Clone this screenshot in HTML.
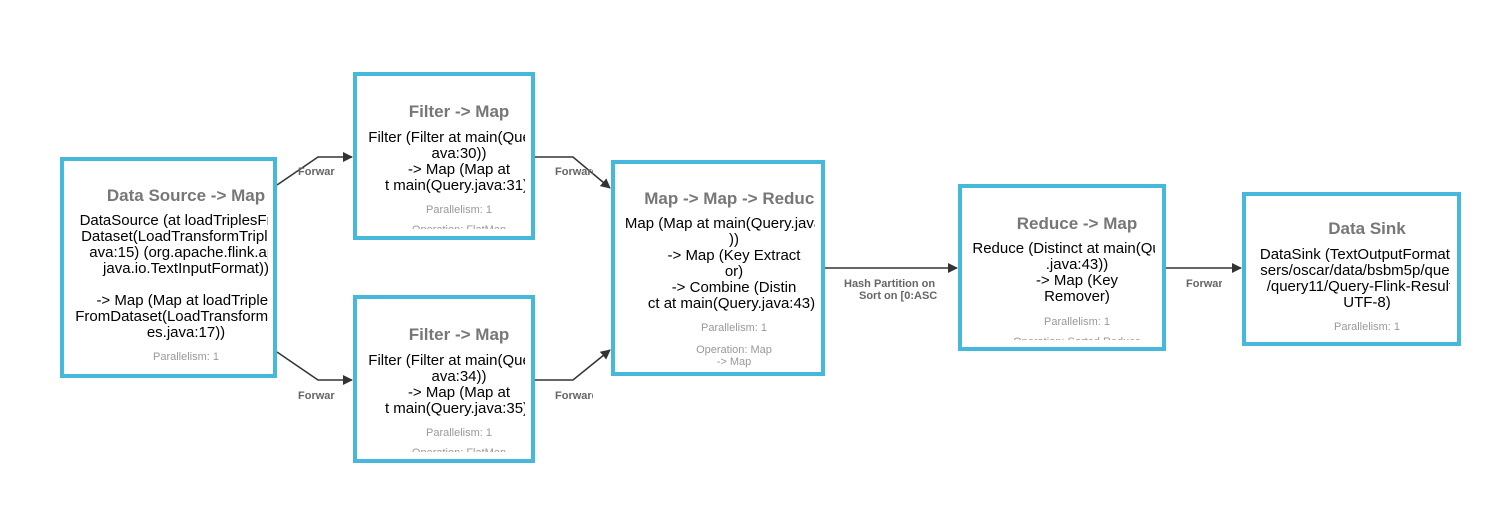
<!DOCTYPE html>
<html><head><meta charset="utf-8"><style>
html,body{margin:0;padding:0;background:#fff;}
svg{display:block;font-family:"Liberation Sans",Arial,sans-serif;}
.t{font-size:17px;fill:#777;text-anchor:middle;font-weight:bold;}
.b{font-size:15px;fill:#000;text-anchor:middle;}
.p{font-size:11px;fill:#999;text-anchor:middle;}
.l{font-size:11px;fill:#666;font-weight:bold;}
.box{fill:#fff;stroke:#45b8dc;stroke-width:4;}
.e{fill:none;stroke:#333;stroke-width:1.5;}
</style></head><body>
<svg width="1506" height="520" viewBox="0 0 1506 520">
<defs>
<marker id="ar" markerWidth="10" markerHeight="10" refX="9" refY="5" orient="auto" markerUnits="userSpaceOnUse"><path d="M0,0 L10,5 L0,10 z" fill="#333"/></marker>
<clipPath id="cA"><rect x="62" y="159" width="206" height="217"/></clipPath>
<clipPath id="cB1"><rect x="355" y="74" width="170" height="155"/></clipPath>
<clipPath id="cB2"><rect x="355" y="297" width="170" height="155"/></clipPath>
<clipPath id="cC"><rect x="613" y="162" width="202" height="212"/></clipPath>
<clipPath id="cD"><rect x="960" y="186" width="195" height="154"/></clipPath>
<clipPath id="cE"><rect x="1244" y="194" width="206" height="150"/></clipPath>
<clipPath id="l1"><rect x="290" y="160" width="45" height="250"/></clipPath>
<clipPath id="l2"><rect x="550" y="160" width="43" height="250"/></clipPath>
<clipPath id="l3"><rect x="835" y="270" width="102" height="40"/></clipPath>
<clipPath id="l4"><rect x="1180" y="270" width="42" height="30"/></clipPath>
</defs>

<polyline class="e" points="277,185 318,157 352,157" marker-end="url(#ar)"/>
<polyline class="e" points="277,352 318,380 352,380" marker-end="url(#ar)"/>
<polyline class="e" points="535,157 573,157 610,188" marker-end="url(#ar)"/>
<polyline class="e" points="535,380 573,380 610,350" marker-end="url(#ar)"/>
<polyline class="e" points="825,268 957,268" marker-end="url(#ar)"/>
<polyline class="e" points="1166,268 1241,268" marker-end="url(#ar)"/>

<g clip-path="url(#l1)"><text class="l" x="298" y="175">Forward</text><text class="l" x="298" y="399">Forward</text></g>
<g clip-path="url(#l2)"><text class="l" x="555" y="175">Forward</text><text class="l" x="555" y="399">Forward</text></g>
<g clip-path="url(#l3)"><text class="l" x="844" y="287">Hash Partition on [0]</text><text class="l" x="859" y="299">Sort on [0:ASC]</text></g>
<g clip-path="url(#l4)"><text class="l" x="1186" y="287">Forward</text></g>

<rect class="box" x="62" y="159" width="213" height="217"/>
<g clip-path="url(#cA)">
<text class="t" x="186" y="201">Data Source -&gt; Map</text>
<text class="b" x="186" y="225">DataSource (at loadTriplesFrom</text>
<text class="b" x="186" y="241">Dataset(LoadTransformTriples.j</text>
<text class="b" x="186" y="257">ava:15) (org.apache.flink.api.</text>
<text class="b" x="186" y="273">java.io.TextInputFormat))</text>
<text class="b" x="186" y="305">-&gt; Map (Map at loadTriples</text>
<text class="b" x="186" y="321">FromDataset(LoadTransformTripl</text>
<text class="b" x="186" y="337">es.java:17))</text>
<text class="p" x="186" y="360">Parallelism: 1</text>
</g>

<rect class="box" x="355" y="74" width="178" height="164"/>
<g clip-path="url(#cB1)">
<text class="t" x="459" y="117">Filter -&gt; Map</text>
<text class="b" x="459" y="142">Filter (Filter at main(Query.j</text>
<text class="b" x="459" y="158">ava:30))</text>
<text class="b" x="459" y="174">-&gt; Map (Map at</text>
<text class="b" x="459" y="190">t main(Query.java:31))</text>
<text class="p" x="459" y="213">Parallelism: 1</text>
<text class="p" x="459" y="233">Operation: FlatMap</text>
</g>

<rect class="box" x="355" y="297" width="178" height="164"/>
<g clip-path="url(#cB2)">
<text class="t" x="459" y="340">Filter -&gt; Map</text>
<text class="b" x="459" y="365">Filter (Filter at main(Query.j</text>
<text class="b" x="459" y="381">ava:34))</text>
<text class="b" x="459" y="397">-&gt; Map (Map at</text>
<text class="b" x="459" y="413">t main(Query.java:35))</text>
<text class="p" x="459" y="436">Parallelism: 1</text>
<text class="p" x="459" y="456">Operation: FlatMap</text>
</g>

<rect class="box" x="613" y="162" width="210" height="212"/>
<g clip-path="url(#cC)">
<text class="t" x="734" y="204">Map -&gt; Map -&gt; Reduce</text>
<text class="b" x="734" y="228">Map (Map at main(Query.java:43</text>
<text class="b" x="734" y="244">))</text>
<text class="b" x="734" y="260">-&gt; Map (Key Extract</text>
<text class="b" x="734" y="276">or)</text>
<text class="b" x="734" y="292">-&gt; Combine (Distin</text>
<text class="b" x="734" y="308">ct at main(Query.java:43))</text>
<text class="p" x="734" y="331">Parallelism: 1</text>
<text class="p" x="734" y="353">Operation: Map</text>
<text class="p" x="734" y="365">-&gt; Map</text>
</g>

<rect class="box" x="960" y="186" width="204" height="163"/>
<g clip-path="url(#cD)">
<text class="t" x="1077" y="229">Reduce -&gt; Map</text>
<text class="b" x="1077" y="253">Reduce (Distinct at main(Query</text>
<text class="b" x="1077" y="269">.java:43))</text>
<text class="b" x="1077" y="285">-&gt; Map (Key</text>
<text class="b" x="1077" y="301">Remover)</text>
<text class="p" x="1077" y="325">Parallelism: 1</text>
<text class="p" x="1077" y="345">Operation: Sorted Reduce</text>
</g>

<rect class="box" x="1244" y="194" width="215" height="150"/>
<g clip-path="url(#cE)">
<text class="t" x="1367" y="234">Data Sink</text>
<text class="b" x="1367" y="259">DataSink (TextOutputFormat (/U</text>
<text class="b" x="1367" y="275">sers/oscar/data/bsbm5p/queries</text>
<text class="b" x="1367" y="291">/query11/Query-Flink-Result) -</text>
<text class="b" x="1367" y="307">UTF-8)</text>
<text class="p" x="1367" y="330">Parallelism: 1</text>
</g>
</svg>
</body></html>
